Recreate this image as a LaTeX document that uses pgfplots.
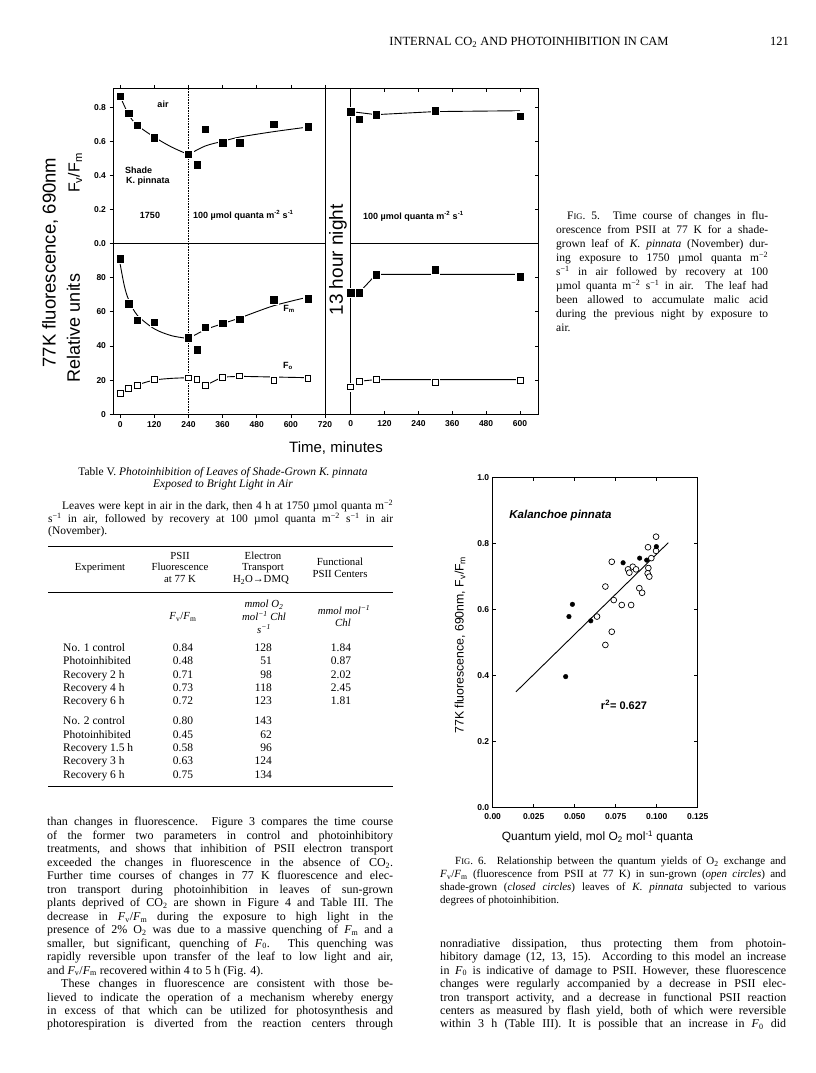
\documentclass[border=0pt]{standalone}
\usepackage{pgfplots}
\pgfplotsset{compat=1.18}
\usepackage{pgfplotstable}
\usepackage{fontspec}
\setmainfont{Liberation Serif}
\newfontfamily\hv{Liberation Sans}

\pgfplotstableread{
x y
0 0.865
30 0.765
60 0.695
120 0.622
240 0.525
270 0.462
300 0.672
360 0.592
420 0.592
540 0.700
660 0.686
}\FvL
\pgfplotstableread{
x y
0 91.0
30 64.6
60 55.0
120 54.0
240 44.7
270 37.8
300 51.0
360 53.2
420 55.7
540 67.0
660 67.7
}\FmL
\pgfplotstableread{
x y
0 12.4
30 15.2
60 17.0
120 20.2
240 21.3
270 20.2
300 16.9
360 21.8
420 22.5
540 19.8
660 21.2
}\FoL
\pgfplotstableread{
x y
0 0.775
30 0.729
90 0.757
300 0.780
600 0.749
}\FvR
\pgfplotstableread{
x y
0 71.2
30 71.2
90 81.6
300 84.5
600 80.4
}\FmR
\pgfplotstableread{
x y
0 16.0
30 19.3
90 20.2
300 18.6
600 20.0
}\FoR
\pgfplotstableread{
x y
0.0996 0.820
0.0947 0.788
0.0996 0.777
0.0967 0.755
0.0726 0.744
0.0949 0.725
0.0854 0.729
0.0825 0.721
0.0874 0.721
0.0833 0.711
0.0945 0.709
0.0955 0.699
0.0687 0.669
0.0894 0.664
0.0911 0.650
0.0738 0.628
0.0787 0.613
0.0844 0.613
0.0636 0.578
0.0726 0.532
0.0687 0.492
}\OpenC
\pgfplotstableread{
x y
0.0998 0.790
0.0896 0.755
0.0795 0.741
0.0939 0.749
0.0486 0.615
0.0465 0.578
0.0598 0.565
0.0445 0.396
}\ClosedC

\pgfplotsset{
  panel/.style={scale only axis, anchor=south west, clip=false,
    axis line style={line width=0.8pt},
    every tick/.style={black, line width=0.7pt},
    major tick length=3.5pt,
    tick label style={font=\hv\bfseries\fontsize{8.5}{9}\selectfont},
    /pgf/number format/assume math mode=true},
  halo/.style={only marks, mark=square*, mark size=4.3pt, mark options={draw=white, fill=white}},
  fsq/.style={only marks, mark=square*, mark size=3.2pt, mark options={draw=black, fill=black}},
  osq/.style={only marks, mark=square*, mark size=2.9pt, mark options={draw=black, fill=white, line width=0.7pt}},
  crv/.style={black, line width=0.9pt, mark=none},
}

\newcommand\JL[4]{\node[anchor=base west,inner sep=0pt] at (#1,#2) {\makebox[#3pt][s]{#4}};}
\newcommand\PL[3]{\node[anchor=base west,inner sep=0pt] at (#1,#2) {#3};}
\newcommand\FIG{F{\fontsize{8.5}{9}\selectfont IG}}
\newcommand\FvFm{\textit{F}\textsubscript{v}/\textit{F}\textsubscript{m}}

\begin{document}
\begin{tikzpicture}[x=1pt,y=1pt]
\path[use as bounding box] (0pt,0pt) rectangle (816pt,1073pt);
\fill[white] (0pt,0pt) rectangle (816pt,1073pt);

% ---------------- Fig. 5 ----------------
\begin{axis}[panel, at={(113pt,829.7pt)}, width=212pt, height=155pt,
  xmin=-25, xmax=720, ymin=0, ymax=0.912,
  xtick={0,120,240,360,480,600,720}, xticklabels={}, xtick pos=right,
  ytick={0,0.2,0.4,0.6,0.8}, ytick pos=left, tick align=outside,
  yticklabel style={/pgf/number format/.cd, fixed, fixed zerofill, precision=1}]
\draw[densely dotted, line width=0.6pt] (axis cs:240,0) -- (axis cs:240,0.912);
\addplot[crv, smooth] coordinates {(0,0.865) (30,0.757) (60,0.695) (120,0.625) (180,0.567) (240,0.522)};
\addplot[crv, smooth] coordinates {(240,0.522) (300,0.573) (360,0.600) (420,0.625) (540,0.657) (660,0.684)};
\addplot[halo] table {\FvL};
\addplot[fsq] table {\FvL};
\end{axis}

\begin{axis}[panel, at={(113pt,658.7pt)}, width=212pt, height=171pt,
  xmin=-25, xmax=720, ymin=0, ymax=100,
  xtick={0,120,240,360,480,600,720}, xtick pos=left,
  ytick={0,20,40,60,80}, ytick pos=left, tick align=outside]
\draw[densely dotted, line width=0.6pt] (axis cs:240,0) -- (axis cs:240,100);
\addplot[crv, smooth] coordinates {(0,88) (15,75) (30,67) (60,58) (120,50) (180,46) (240,44.3)};
\addplot[crv, smooth] coordinates {(240,44.3) (300,49.5) (360,53) (420,56.3) (540,63.5) (660,68.5)};
\addplot[crv, smooth] coordinates {(0,12.4) (30,15.2) (60,17.2) (120,20.0) (180,21) (240,21.4)};
\addplot[crv] coordinates {(240,21.3) (270,20.2) (300,16.9) (360,21.8) (420,22.2) (660,21.4)};
\addplot[halo] table {\FmL};
\addplot[fsq] table {\FmL};
\addplot[halo, mark size=4pt] table {\FoL};
\addplot[osq] table {\FoL};
\end{axis}

\begin{axis}[panel, at={(350.7pt,829.7pt)}, width=187.3pt, height=155pt,
  xmin=0, xmax=664, ymin=0, ymax=0.912,
  xtick={0,120,240,360,480,600}, xticklabels={}, xtick pos=right,
  ytick={0.2,0.4,0.6,0.8}, yticklabels={}, ytick pos=right, tick align=inside]
\addplot[crv] coordinates {(0,0.775) (90,0.757) (300,0.775) (600,0.78)};
\addplot[halo] table {\FvR};
\addplot[fsq] table {\FvR};
\end{axis}

\begin{axis}[panel, at={(350.7pt,658.7pt)}, width=187.3pt, height=171pt,
  xmin=0, xmax=664, ymin=0, ymax=100,
  xtick={0,120,240,360,480,600}, xtick pos=left,
  ytick={20,40,60,80}, yticklabels={}, ytick pos=right, tick align=inside,
  xticklabel style={yshift=-3pt}]
\addplot[crv] coordinates {(0,71.2) (30,71.2) (90,81.8) (600,81.8)};
\addplot[crv] coordinates {(0,16) (30,19.3) (90,20.3) (600,20.3)};
\addplot[halo] table {\FmR};
\addplot[fsq] table {\FmR};
\addplot[halo, mark size=4pt] table {\FoR};
\addplot[osq] table {\FoR};
\end{axis}

% ---------------- Fig. 6 ----------------
\begin{axis}[panel, at={(492.7pt,265.7pt)}, width=205pt, height=330pt,
  xmin=0, xmax=0.125, ymin=0, ymax=1,
  xtick={0,0.025,0.05,0.075,0.1,0.125},
  xticklabels={0.00,0.025,0.050,0.075,0.100,0.125},
  ytick={0,0.2,0.4,0.6,0.8,1.0}, tick align=inside, scaled x ticks=false,
  yticklabel style={/pgf/number format/.cd, fixed, fixed zerofill, precision=1},
  xticklabel style={yshift=-3pt}]
\addplot[black, line width=0.9pt] coordinates {(0.0142,0.350) (0.1071,0.802)};
\addplot[only marks, mark=*, mark size=2.9pt, mark options={draw=black, fill=white, line width=0.7pt}] table {\OpenC};
\addplot[only marks, mark=*, mark size=2.3pt, mark options={draw=black, fill=black}] table {\ClosedC};
\end{axis}

\begin{scope}[yshift=1073pt, y=-1pt]
% band of Fig. 5
\draw[line width=0.8pt] (325,88.3) -- (350.7,88.3);
\draw[line width=0.8pt] (325,414.3) -- (350.7,414.3);
\node[rotate=90, font=\hv\fontsize{19}{20}\selectfont] at (338,260) {13 hour night};
\node[rotate=90, font=\hv\fontsize{18.5}{20}\selectfont] at (50,262.5) {77K fluorescence, 690nm};
\node[rotate=90, font=\hv\fontsize{16}{18}\selectfont] at (75,173) {F\textsubscript{v}/F\textsubscript{m}};
\node[rotate=90, font=\hv\fontsize{18}{20}\selectfont] at (73.5,328) {Relative units};
\node[font=\hv\fontsize{15}{17}\selectfont] at (336,448) {Time, minutes};
\begin{scope}[font=\hv\bfseries\fontsize{9}{10}\selectfont]
\node at (163,104) {air};
\node[anchor=west, inner sep=0] at (125,170) {Shade};
\node[anchor=west, inner sep=0] at (126,181) {K. pinnata};
\node at (150,215) {1750};
\node[anchor=west, inner sep=0] at (193,215) {100 µmol quanta m\textsuperscript{-2} s\textsuperscript{-1}};
\node[anchor=west, inner sep=0] at (363,216) {100 µmol quanta m\textsuperscript{-2} s\textsuperscript{-1}};
\node at (289,309) {F\textsubscript{m}};
\node at (288,366) {F\textsubscript{o}};
\end{scope}

% Fig. 6 labels
\node[rotate=90, font=\hv\fontsize{12.3}{14}\selectfont] at (460,645) {77K fluorescence, 690nm, F\textsubscript{v}/F\textsubscript{m}};
\node[font=\hv\fontsize{12}{14}\selectfont] at (597.5,837) {Quantum yield, mol O\textsubscript{2} mol\textsuperscript{-1} quanta};
\node[font=\hv\bfseries\itshape\fontsize{11.5}{13}\selectfont] at (560.5,515.7) {Kalanchoe pinnata};
\node[font=\hv\bfseries\fontsize{11}{13}\selectfont] at (624,705) {r\textsuperscript{2}= 0.627};

% header
\node[anchor=base, inner sep=0, font=\fontsize{12.5}{14}\selectfont] at (529,46) {INTERNAL CO\textsubscript{2} AND PHOTOINHIBITION IN CAM};
\node[anchor=base east, inner sep=0, font=\fontsize{12.5}{14}\selectfont] at (789,46) {121};

% Fig. 5 caption
\begin{scope}[font=\fontsize{11.5}{13}\selectfont]
\JL{567}{220}{201}{\FIG. 5. Time course of changes in flu-}
\JL{556}{233.9}{212}{orescence from PSII at 77 K for a shade-}
\JL{556}{247.8}{212}{grown leaf of \textit{K. pinnata} (November) dur-}
\JL{556}{261.7}{212}{ing exposure to 1750 µmol quanta m\textsuperscript{−2}}
\JL{556}{275.6}{212}{s\textsuperscript{−1} in air followed by recovery at 100}
\JL{556}{289.5}{212}{µmol quanta m\textsuperscript{−2} s\textsuperscript{−1} in air. The leaf had}
\JL{556}{303.4}{212}{been allowed to accumulate malic acid}
\JL{556}{317.3}{212}{during the previous night by exposure to}
\PL{556}{331.2}{air.}
\end{scope}

% Table V
\begin{scope}[font=\fontsize{11.5}{13}\selectfont]
\node[anchor=base, inner sep=0] at (223,475.5) {Table V. \textit{Photoinhibition of Leaves of Shade-Grown K. pinnata}};
\node[anchor=base, inner sep=0] at (223,487.5) {\textit{Exposed to Bright Light in Air}};
\JL{62}{510}{331}{Leaves were kept in air in the dark, then 4 h at 1750 µmol quanta m\textsuperscript{−2}}
\JL{48}{522.5}{345}{s\textsuperscript{−1} in air, followed by recovery at 100 µmol quanta m\textsuperscript{−2} s\textsuperscript{−1} in air}
\PL{48}{535}{(November).}
\draw[line width=0.8pt] (48,546) -- (393,546);
\draw[line width=0.8pt] (48,592.5) -- (393,592.5);
\draw[line width=0.8pt] (48,786) -- (393,786);
\begin{scope}[font=\fontsize{10.8}{12}\selectfont]
\node[anchor=base, inner sep=0] at (100,571) {Experiment};
\node[anchor=base, inner sep=0] at (180,559.5) {PSII};
\node[anchor=base, inner sep=0] at (180,571) {Fluorescence};
\node[anchor=base, inner sep=0] at (180,582.5) {at 77 K};
\node[anchor=base, inner sep=0] at (263,559.5) {Electron};
\node[anchor=base, inner sep=0] at (263,571) {Transport};
\node[anchor=base, inner sep=0] at (261,583) {H\textsubscript{2}O→DMQ};
\node[anchor=base, inner sep=0] at (340,566) {Functional};
\node[anchor=base, inner sep=0] at (340,578) {PSII Centers};
\node[anchor=base, inner sep=0] at (183,620) {\FvFm};
\node[anchor=base, inner sep=0] at (264,607.5) {\textit{mmol O\textsubscript{2}}};
\node[anchor=base, inner sep=0] at (264,620.5) {\textit{mol\textsuperscript{−1} Chl}};
\node[anchor=base, inner sep=0] at (264,633.5) {\textit{s\textsuperscript{−1}}};
\node[anchor=base, inner sep=0] at (344,614.5) {\textit{mmol mol\textsuperscript{−1}}};
\node[anchor=base, inner sep=0] at (343,627) {\textit{Chl}};
\end{scope}
\foreach \yy/\nm/\fv/\et/\fc in {651.5/No. 1 control/0.84/128/1.84, 664.8/Photoinhibited/0.48/51/0.87, 678.1/Recovery 2 h/0.71/98/2.02, 691.4/Recovery 4 h/0.73/118/2.45, 704.7/Recovery 6 h/0.72/123/1.81, 725/No. 2 control/0.80/143/, 738.3/Photoinhibited/0.45/62/, 751.6/Recovery 1.5 h/0.58/96/, 764.9/Recovery 3 h/0.63/124/, 778.2/Recovery 6 h/0.75/134/}{
  \node[anchor=base west, inner sep=0] at (63,\yy) {\nm};
  \node[anchor=base, inner sep=0] at (183,\yy) {\fv};
  \node[anchor=base east, inner sep=0] at (272,\yy) {\et};
  \node[anchor=base, inner sep=0] at (341,\yy) {\fc};
}
\end{scope}

% body text, left column
\begin{scope}[font=\fontsize{12}{13.5}\selectfont]
\JL{47}{826}{346}{than changes in fluorescence. Figure 3 compares the time course}
\JL{47}{839.5}{346}{of the former two parameters in control and photoinhibitory}
\JL{47}{852.9}{346}{treatments, and shows that inhibition of PSII electron transport}
\JL{47}{866.4}{346}{exceeded the changes in fluorescence in the absence of CO\textsubscript{2}.}
\JL{47}{879.9}{346}{Further time courses of changes in 77 K fluorescence and elec-}
\JL{47}{893.4}{346}{tron transport during photoinhibition in leaves of sun-grown}
\JL{47}{906.8}{346}{plants deprived of CO\textsubscript{2} are shown in Figure 4 and Table III. The}
\JL{47}{920.3}{346}{decrease in \FvFm{} during the exposure to high light in the}
\JL{47}{933.8}{346}{presence of 2\% O\textsubscript{2} was due to a massive quenching of \textit{F}\textsubscript{m} and a}
\JL{47}{947.2}{346}{smaller, but significant, quenching of \textit{F}\textsubscript{0}. This quenching was}
\JL{47}{960.7}{346}{rapidly reversible upon transfer of the leaf to low light and air,}
\PL{47}{974.2}{and \FvFm{} recovered within 4 to 5 h (Fig. 4).}
\JL{61}{987.6}{332}{These changes in fluorescence are consistent with those be-}
\JL{47}{1001.1}{346}{lieved to indicate the operation of a mechanism whereby energy}
\JL{47}{1014.6}{346}{in excess of that which can be utilized for photosynthesis and}
\JL{47}{1028}{346}{photorespiration is diverted from the reaction centers through}
% right column body
\JL{440}{947.2}{346}{nonradiative dissipation, thus protecting them from photoin-}
\JL{440}{960.7}{346}{hibitory damage (12, 13, 15). According to this model an increase}
\JL{440}{974.2}{346}{in \textit{F}\textsubscript{0} is indicative of damage to PSII. However, these fluorescence}
\JL{440}{987.6}{346}{changes were regularly accompanied by a decrease in PSII elec-}
\JL{440}{1001.1}{346}{tron transport activity, and a decrease in functional PSII reaction}
\JL{440}{1014.6}{346}{centers as measured by flash yield, both of which were reversible}
\JL{440}{1028}{346}{within 3 h (Table III). It is possible that an increase in \textit{F}\textsubscript{0} did}
\end{scope}

% Fig. 6 caption
\begin{scope}[font=\fontsize{11}{12.5}\selectfont]
\JL{455}{865}{331}{\FIG. 6. Relationship between the quantum yields of O\textsubscript{2} exchange and}
\JL{440}{878}{346}{\FvFm{} (fluorescence from PSII at 77 K) in sun-grown (\textit{open circles}) and}
\JL{440}{891}{346}{shade-grown (\textit{closed circles}) leaves of \textit{K. pinnata} subjected to various}
\PL{440}{903.5}{degrees of photoinhibition.}
\end{scope}
\end{scope}
\end{tikzpicture}
\end{document}
